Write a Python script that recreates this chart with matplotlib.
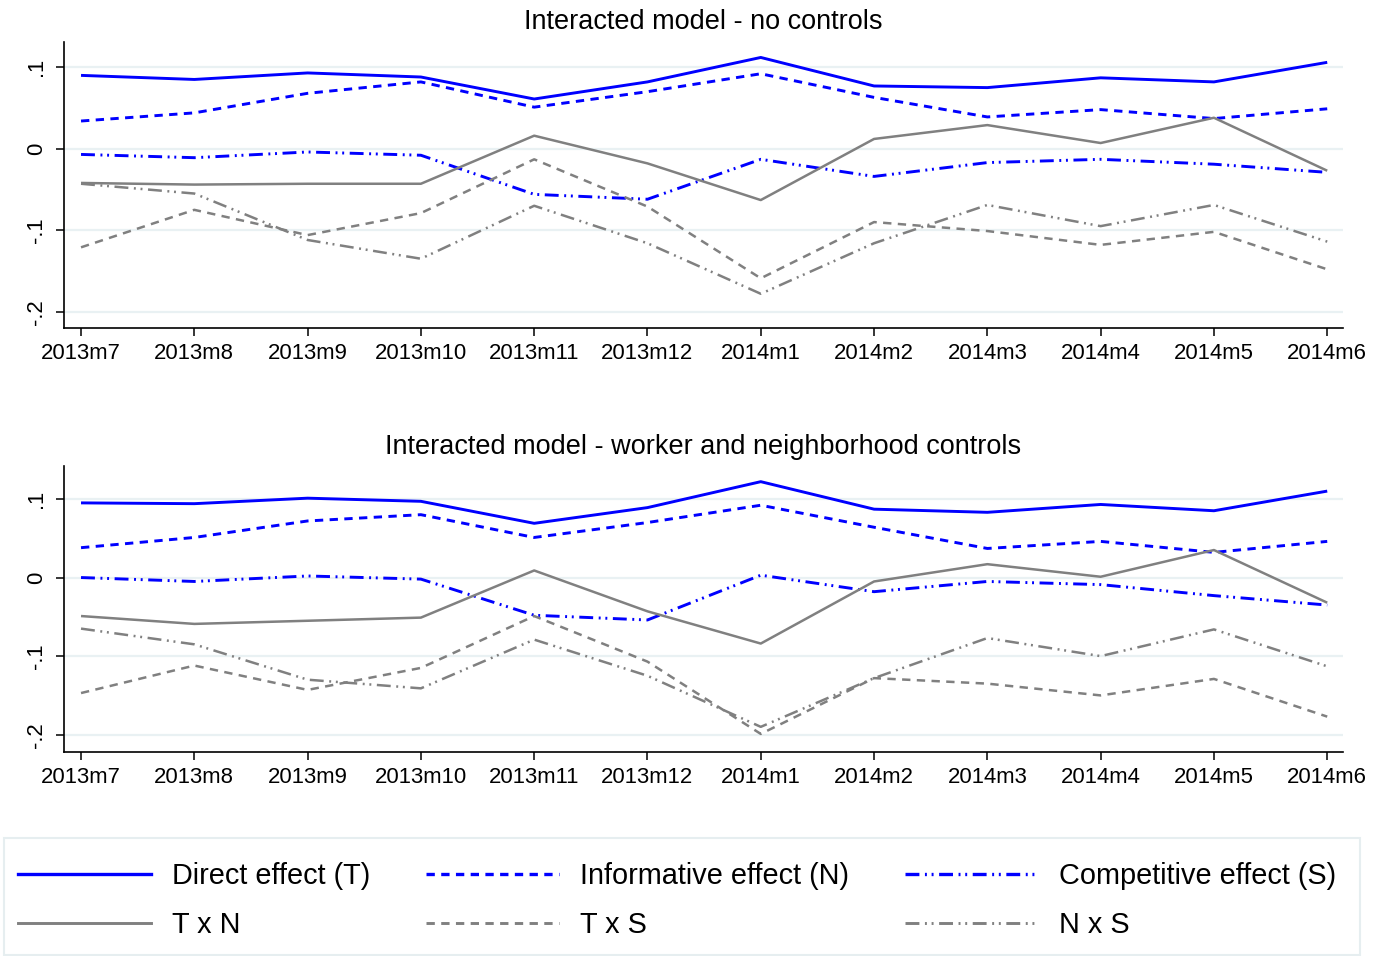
import matplotlib
matplotlib.use("Agg")
import matplotlib.pyplot as plt
from matplotlib.lines import Line2D
from matplotlib.patches import Rectangle

plt.rcParams['font.family'] = ['Liberation Sans', 'DejaVu Sans']
plt.rcParams['lines.scale_dashes'] = False

months = ['2013m7', '2013m8', '2013m9', '2013m10', '2013m11', '2013m12',
          '2014m1', '2014m2', '2014m3', '2014m4', '2014m5', '2014m6']
yticks = [-0.2, -0.1, 0.0, 0.1]
ytick_labels = ['-.2', '-.1', '0', '.1']

# model without controls
direct_nc = [0.090, 0.085, 0.093, 0.088, 0.061, 0.082, 0.112, 0.077, 0.075, 0.087, 0.082, 0.106]
inform_nc = [0.034, 0.044, 0.068, 0.082, 0.051, 0.070, 0.092, 0.063, 0.039, 0.048, 0.037, 0.049]
compet_nc = [-0.007, -0.011, -0.004, -0.008, -0.056, -0.062, -0.013, -0.034, -0.017, -0.013, -0.019, -0.029]
txn_nc = [-0.042, -0.044, -0.043, -0.043, 0.016, -0.018, -0.063, 0.012, 0.029, 0.007, 0.038, -0.027]
txs_nc = [-0.121, -0.075, -0.106, -0.079, -0.013, -0.071, -0.159, -0.090, -0.101, -0.118, -0.102, -0.148]
nxs_nc = [-0.043, -0.055, -0.112, -0.135, -0.070, -0.116, -0.178, -0.116, -0.069, -0.095, -0.069, -0.114]

# model with worker and neighborhood controls
direct_wc = [0.095, 0.094, 0.101, 0.097, 0.069, 0.089, 0.122, 0.087, 0.083, 0.093, 0.085, 0.110]
inform_wc = [0.038, 0.051, 0.072, 0.080, 0.051, 0.070, 0.092, 0.064, 0.037, 0.046, 0.032, 0.046]
compet_wc = [0.000, -0.005, 0.002, -0.002, -0.048, -0.054, 0.003, -0.018, -0.005, -0.009, -0.023, -0.035]
txn_wc = [-0.049, -0.059, -0.055, -0.051, 0.009, -0.043, -0.084, -0.005, 0.017, 0.001, 0.035, -0.032]
txs_wc = [-0.147, -0.112, -0.143, -0.115, -0.049, -0.107, -0.199, -0.128, -0.135, -0.150, -0.129, -0.177]
nxs_wc = [-0.065, -0.085, -0.130, -0.141, -0.079, -0.125, -0.190, -0.128, -0.077, -0.100, -0.066, -0.113]

labels = ['Direct effect (T)', 'Informative effect (N)', 'Competitive effect (S)',
          'T x N', 'T x S', 'N x S']

BLUE = '#0000ff'
GRAY = '#808080'
dash = (0, (6.0, 4.6))
dashdotdot = (0, (10.0, 4.0, 1.4, 3.4, 1.4, 4.0))
styles = [
    dict(color=BLUE, lw=2.1, ls='-'),
    dict(color=BLUE, lw=2.1, ls=dash),
    dict(color=BLUE, lw=2.1, ls=dashdotdot),
    dict(color=GRAY, lw=1.8, ls='-'),
    dict(color=GRAY, lw=1.8, ls=dash),
    dict(color=GRAY, lw=1.8, ls=dashdotdot),
]


def panel(ax, series, title, pad):
    x = range(len(months))
    for vals, st in zip(series, styles):
        ax.plot(x, vals, solid_capstyle='butt', dash_capstyle='butt', **st)
    ax.set_xlim(-0.15, 11.14)
    ax.set_xticks(list(x))
    ax.set_xticklabels(months, fontsize=15.9)
    ax.set_yticks(yticks)
    ax.set_yticklabels(ytick_labels, fontsize=15.9, rotation=90, va='center')
    ax.grid(axis='y', color='#e9f1f3', lw=1.6)
    ax.set_axisbelow(True)
    for s in ['top', 'right']:
        ax.spines[s].set_visible(False)
    for s in ['left', 'bottom']:
        ax.spines[s].set_linewidth(1.2)
    ax.tick_params(length=6, width=1.1, pad=5)
    ax.tick_params(axis='y', pad=6)
    ax.set_title(title, fontsize=19.5, pad=pad)


fig = plt.figure(figsize=(13.74, 9.56), dpi=100)
ax1 = fig.add_axes([0.0466, 0.6569, 0.9309, 0.2992])
ax2 = fig.add_axes([0.0466, 0.2134, 0.9309, 0.2992])

panel(ax1, [direct_nc, inform_nc, compet_nc, txn_nc, txs_nc, nxs_nc],
      'Interacted model - no controls', 9.5)
ax1.set_ylim(-0.22, 0.131)
panel(ax2, [direct_wc, inform_wc, compet_wc, txn_wc, txs_wc, nxs_wc],
      'Interacted model - worker and neighborhood controls', 8.5)
ax2.set_ylim(-0.222, 0.142)

# legend frame
fig.patches.append(Rectangle((4 / 1374, 1 - 955 / 956), 1356 / 1374, 117 / 956,
                             transform=fig.transFigure, fill=False,
                             edgecolor='#e6eef0', lw=1.5))

handles = [Line2D([], [], **dict(st, lw=st['lw'] + 0.3)) for st in styles]
order = [0, 3, 1, 4, 2, 5]
fig.legend([handles[i] for i in order], [labels[i] for i in order],
           ncol=3, loc='upper left', bbox_to_anchor=(18 / 1374, 1 - 862 / 956),
           frameon=False, fontsize=20.8, handlelength=4.6, handletextpad=0.72,
           columnspacing=1.95, labelspacing=0.73, borderpad=0, borderaxespad=0)

fig.savefig('out.png', dpi=100)
